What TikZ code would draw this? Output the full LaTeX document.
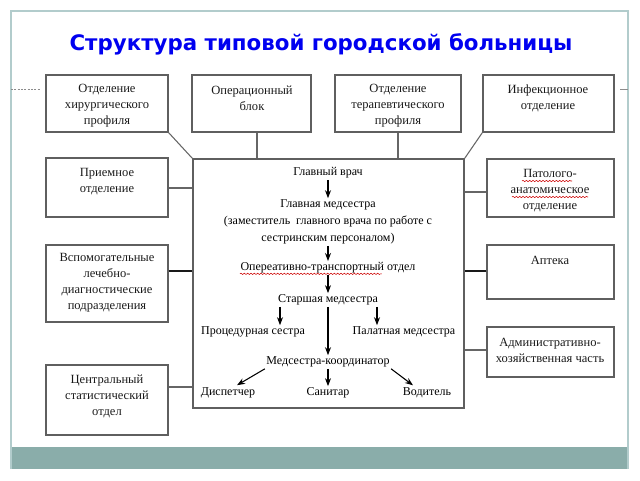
\documentclass[tikz,border=0pt]{standalone}
\usepackage{fontspec}
\setmainfont{Liberation Serif}
\newfontfamily\titlefont{DejaVu Sans}
\usetikzlibrary{arrows.meta,calc,decorations.pathmorphing}
\definecolor{framecol}{RGB}{178,204,204}
\definecolor{bandcol}{RGB}{138,173,170}
\definecolor{titleblue}{RGB}{0,0,240}
\definecolor{boxline}{RGB}{95,95,95}
\newcommand\mkbox[5]{\node[box, minimum width={(#4-#2)*0.75pt}, minimum height={(#5-#3)*0.75pt}] (#1) at ({(#2+#4)/2},{(#3+#5)/2}) {};}
\begin{document}
\begin{tikzpicture}[x=0.75pt,y=-0.75pt,
  box/.style={draw=boxline, line width=1.1pt, inner sep=0pt},
  sidetxt/.style={font=\fontsize{9.4}{12}\selectfont, align=center, inner sep=0pt, text=black!90},
  ctxt/.style={font=\fontsize{9}{12.75}\selectfont, align=center, inner sep=1pt},
  conn/.style={draw=black!60, line width=0.8pt},
  heavy/.style={draw=black!90, line width=1.5pt},
  arr/.style={-{Stealth[length=6pt,width=4.5pt]}, line width=0.8pt},
  squig/.style={draw=red!80!black, line width=0.4pt, decorate, decoration={snake, amplitude=0.5pt, segment length=2.5pt}}]
\useasboundingbox (0,0) rectangle (640,480);
% frame
\fill[bandcol] (11,447) rectangle (628,469);
\draw[framecol, line width=1.2pt] (11,469) -- (11,11) -- (628,11) -- (628,469);
\draw[black!45, dash pattern=on 1.5pt off 1pt, line width=0.5pt] (11,89) -- (40,89);
\draw[black!45, line width=0.5pt] (620,89) -- (628,89);
% title
\node[font=\titlefont\bfseries\fontsize{16}{19}\selectfont, text=titleblue] (title) at (321,44) {Структура типовой городской больницы};
% boxes
\mkbox{b1}{46}{75}{168}{132}
\mkbox{b2}{192}{75}{311}{132}
\mkbox{b3}{335}{75}{461}{132}
\mkbox{b4}{483}{75}{614}{132}
\mkbox{L1}{46}{158}{168}{217}
\mkbox{L2}{46}{245}{168}{322}
\mkbox{L3}{46}{365}{168}{435}
\mkbox{R1}{487}{159}{614}{217}
\mkbox{R2}{487}{245}{614}{299}
\mkbox{R3}{487}{327}{614}{377}
\mkbox{C}{193}{159}{464}{408}
% side texts
\node[sidetxt] (b1t) at (107,106) {Отделение\\хирургического\\профиля};
\node[sidetxt] (b2t) at (252,98) {Операционный\\блок};
\node[sidetxt] (b3t) at (398,106) {Отделение\\терапевтического\\профиля};
\node[sidetxt] (b4t) at (548,98) {Инфекционное\\отделение};
\node[sidetxt] (L1t) at (107,182) {Приемное\\отделение};
\node[sidetxt] (L2t) at (107,283) {Вспомогательные\\лечебно-\\диагностические\\подразделения};
\node[sidetxt] (L3t) at (107,396) {Центральный\\статистический\\отдел};
\node[sidetxt] (R1t) at (550,191) {Патолого-\\анатомическое\\отделение};
\node[sidetxt] (R2t) at (550,260) {Аптека};
\node[sidetxt] (R3t) at (550,350) {Административно-\\хозяйственная часть};
% connectors
\coordinate (x2) at (257,0);
\coordinate (y1) at (0,188);
\coordinate (y2) at (0,271);
\coordinate (y3) at (0,387);
\coordinate (y4) at (0,192);
\coordinate (y5) at (0,350);
\draw[conn] (b1.south east) -- (C.north west);
\draw[conn] (b2.south -| x2) -- (C.north -| x2);
\draw[conn] (b3.south) -- (b3.south |- C.north);
\draw[conn] (b4.south west) -- (C.north east);
\draw[conn] (L1.east |- y1) -- (C.west |- y1);
\draw[heavy] (L2.east |- y2) -- (C.west |- y2);
\draw[conn] (L3.east |- y3) -- (C.west |- y3);
\draw[conn] (R1.west |- y4) -- (C.east |- y4);
\draw[heavy] (R2.west |- y2) -- (C.east |- y2);
\draw[conn] (R3.west |- y5) -- (C.east |- y5);
% center contents
\node[ctxt] (gv) at (328,173) {Главный врач};
\node[ctxt] (gm) at (328,222) {Главная медсестра\\(заместитель\ \ главного врача по работе с\\сестринским персоналом)};
\node[ctxt] (ot) at (328,268) {Опереативно-транспортный отдел};
\node[ctxt] (sm) at (328,300) {Старшая медсестра};
\node[ctxt] (ps) at (253,332) {Процедурная сестра};
\node[ctxt] (pm) at (404,332) {Палатная медсестра};
\node[ctxt] (mk) at (328,362) {Медсестра-координатор};
\node[ctxt] (ds) at (228,393) {Диспетчер};
\node[ctxt] (sn) at (328,393) {Санитар};
\node[ctxt] (vd) at (427,393) {Водитель};
\coordinate (xa) at (280,0);
\coordinate (xb) at (377,0);
\draw[arr] (gv) -- (gm);
\draw[arr] (gm) -- (ot);
\draw[arr] (ot) -- (sm);
\draw[arr] (sm.south -| xa) -- (ps.north -| xa);
\draw[arr] (sm.south -| xb) -- (pm.north -| xb);
\draw[arr] (sm) -- (mk);
\draw[arr] (mk.south west) -- ($(ds.north)+(9,-1)$);
\draw[arr] (mk) -- (sn);
\draw[arr] (mk.south east) -- ($(vd.north)+(-14,-1)$);
% spell-check squiggles
\draw[squig] ($(ot.base west)+(1,3)$) -- ($(ot.base west)+(143,3)$);
\draw[squig] ($(R1t)+(-28,-10)$) -- ($(R1t)+(22,-10)$);
\draw[squig] ($(R1t)+(-38,6)$) -- ($(R1t)+(38,6)$);
\end{tikzpicture}
\end{document}
